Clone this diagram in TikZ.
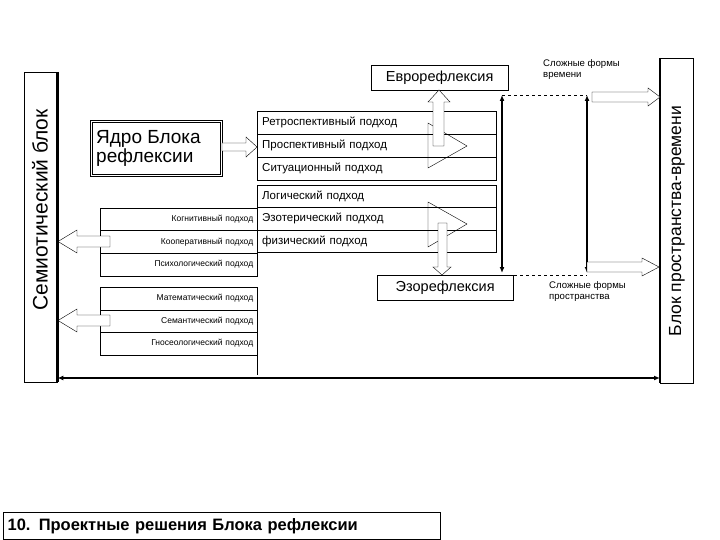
\documentclass[tikz,border=0pt]{standalone}
\usepackage{fontspec}
\setmainfont{Liberation Sans}
\usetikzlibrary{arrows.meta}
\begin{document}
\begin{tikzpicture}[x=1pt,y=-1pt,
  cell/.style={draw,thin,minimum width=239pt,text width=229pt,align=left,minimum height=23pt,anchor=north west,inner xsep=5pt,inner ysep=0pt,font=\fontsize{11.5}{13}\selectfont},
  lcell/.style={draw,thin,minimum width=157pt,text width=149pt,align=right,minimum height=22.5pt,anchor=north west,inner xsep=4pt,inner ysep=0pt,font=\fontsize{8.5}{10}\selectfont},
  hollow/.style={draw,thin,fill=white},
  thickarr/.style={line width=2pt,{Latex[length=6pt,width=5pt]}-{Latex[length=6pt,width=5pt]}},
  lbl/.style={font=\fontsize{9.6}{11}\selectfont,align=left,anchor=north west,inner sep=0pt}]
\useasboundingbox (0,0) rectangle (720,540);
% side blocks
\node[draw,thin,minimum width=33pt,minimum height=310pt,anchor=north west,inner sep=0pt] (sem) at (24,72) {};
\draw[line width=2.5pt] (sem.north east) -- (sem.south east);
\node[rotate=90,font=\fontsize{21}{23}\selectfont] at (40,210) {Семиотический блок};
\node[draw,thin,minimum width=33pt,minimum height=325pt,anchor=north west,inner sep=0pt] (blk) at (660,58) {};
\draw[line width=2.5pt] (blk.north west) -- (blk.south west);
\node[rotate=90,font=\fontsize{17.5}{19}\selectfont] at (677,221) {Блок пространства-времени};
\draw[thickarr] (sem.east |- 0,378) -- (blk.west |- 0,378);
% core
\node[draw,double,double distance=1.5pt,line width=0.8pt,minimum width=130pt,minimum height=54pt,anchor=north west,inner sep=0pt] (core) at (91,121) {};
\node[font=\fontsize{19}{19}\selectfont,align=left,anchor=west,inner sep=0pt] at (96,148) {Ядро Блока\\рефлексии};
\draw[hollow] (222,143)--(246,143)--(246,137)--(257,147)--(246,157)--(246,151)--(222,151)--cycle;
% upper table
\node[cell] (r1) at (257,111) {Ретроспективный подход};
\node[cell] (r2) at (257,134) {Проспективный подход};
\node[cell] (r3) at (257,157) {Ситуационный подход};
\node[cell,minimum height=22pt] (r4) at (257,185) {Логический подход};
\node[cell,minimum height=23pt] (r5) at (257,207) {Эзотерический подход};
\node[cell,minimum height=22pt] (r6) at (257,230) {физический подход};
% left tables
\node[lcell] (l1) at (100,208) {Когнитивный подход};
\node[lcell] (l2) at (100,230.5) {Кооперативный подход};
\node[lcell] (l3) at (100,253) {Психологический подход};
\node[lcell] (l4) at (100,287) {Математический подход};
\node[lcell] (l5) at (100,309.5) {Семантический подход};
\node[lcell] (l6) at (100,332) {Гносеологический подход};
\draw[thin] (l6.south east) -- ++(0,20);
% left hollow arrows
\draw[hollow] (110,236)--(77,236)--(77,230)--(58,241.5)--(77,253)--(77,247)--(110,247)--cycle;
\draw[hollow] (110,315)--(77,315)--(77,309)--(58,320.5)--(77,332)--(77,326)--(110,326)--cycle;
% reflexion boxes
\node[draw,thin,minimum width=137pt,minimum height=25pt,anchor=north west,inner sep=0pt,font=\fontsize{14.5}{16}\selectfont] (evro) at (371,65) {Еврорефлексия};
\node[draw,thin,minimum width=136pt,minimum height=25pt,anchor=north west,inner sep=0pt,font=\fontsize{14.5}{16}\selectfont] (ezo) at (377,275) {Эзорефлексия};
% triangles
\draw[thin] (428,123)--(467,146)--(428,168)--cycle;
\draw[thin] (428,202)--(467,224)--(428,247)--cycle;
% vertical hollow arrows
\draw[hollow] (433,146)--(433,102)--(428,102)--(439,90)--(450,102)--(444,102)--(444,146)--cycle;
\draw[hollow] (438,223)--(438,267)--(433,267)--(442,275)--(451,267)--(447,267)--(447,223)--cycle;
% right part
\coordinate (a1) at (502,95); \coordinate (a2) at (502,273);
\coordinate (b1) at (587,95); \coordinate (b2) at (587,273);
\draw[thickarr] (a1) -- (a2);
\draw[thickarr] (b1) -- (b2);
\draw[thin,dashed] (a1) -- (b1);
\draw[thin,dashed] (a2 |- 0,275) -- (b2 |- 0,275);
\draw[hollow] (592,92)--(648,92)--(648,88)--(660,97)--(648,106)--(648,102)--(592,102)--cycle;
\draw[hollow] (587,262)--(642,262)--(642,258)--(659,267)--(642,276)--(642,272)--(587,272)--cycle;
\node[lbl] (t1) at (543,59) {Сложные формы\\времени};
\node[lbl] (t2) at (549,281) {Сложные формы\\пространства};
% title
\node[draw,line width=1.2pt,minimum width=437pt,text width=429pt,align=left,minimum height=27pt,anchor=north west,inner xsep=4pt,inner ysep=0pt,font=\bfseries\fontsize{16.5}{18}\selectfont] (title) at (3,512) {10. Проектные решения Блока рефлексии};
\end{tikzpicture}
\end{document}
